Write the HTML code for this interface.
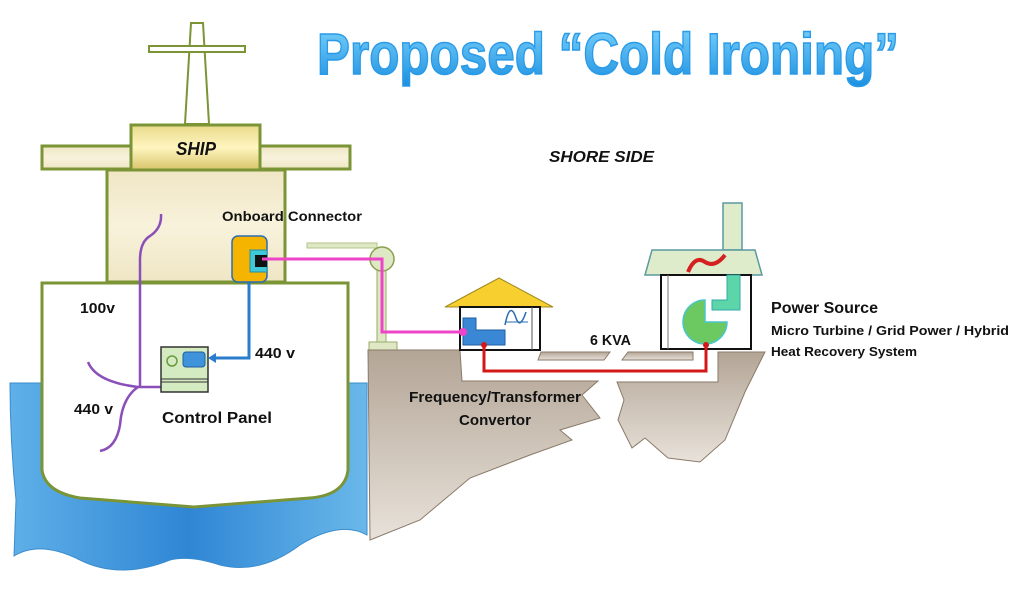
<!DOCTYPE html>
<html><head><meta charset="utf-8"><style>
html,body{margin:0;padding:0;background:#fff;}
svg{display:block;}
text{font-family:"Liberation Sans",sans-serif;font-weight:bold;fill:#111;}
</style></head><body>
<svg width="1024" height="593" viewBox="0 0 1024 593" xmlns="http://www.w3.org/2000/svg">
<defs>
<linearGradient id="gold" x1="0" y1="0" x2="0" y2="1"><stop offset="0" stop-color="#e8d98a"/><stop offset=".5" stop-color="#fff6c0"/><stop offset="1" stop-color="#d9c46a"/></linearGradient>
<linearGradient id="beige" x1="0" y1="0" x2="0" y2="1"><stop offset="0" stop-color="#efe6c4"/><stop offset=".5" stop-color="#f8f2dc"/><stop offset="1" stop-color="#efe6c4"/></linearGradient>
<linearGradient id="water" x1="0" y1="0" x2="1" y2="0"><stop offset="0" stop-color="#5fb0e8"/><stop offset=".5" stop-color="#2f86d4"/><stop offset="1" stop-color="#6ab8ea"/></linearGradient>
<linearGradient id="land" x1="0" y1="0" x2="0" y2="1"><stop offset="0" stop-color="#b3a596"/><stop offset="1" stop-color="#e8e2da"/></linearGradient>
<linearGradient id="title" x1="0" y1="0" x2="0" y2="1"><stop offset="0" stop-color="#7fd4fb"/><stop offset="1" stop-color="#1a8fe0"/></linearGradient>
</defs>

<text x="608" y="74" text-anchor="middle" font-size="58" textLength="582" lengthAdjust="spacingAndGlyphs" style="fill:url(#title);stroke:#2a9ae8;stroke-width:1.5">Proposed “Cold Ironing”</text>

<path d="M10,383 L42,383 L42,470 Q60,500 194,507 Q330,500 348,470 L348,383 L367,383 L367,535 Q340,520 300,545 Q260,575 220,565 Q190,555 170,560 Q120,580 80,560 Q40,540 14,556 L16,500 Q10,440 10,383Z" fill="url(#water)" stroke="#3a8ccc" stroke-width="1"/>

<polygon points="191,23 203,23 209,124 185,124" fill="#fff" stroke="#7a9436" stroke-width="2"/>
<rect x="149" y="46" width="96" height="6" fill="#fff" stroke="#7a9436" stroke-width="2"/>
<rect x="42" y="146" width="308" height="23" fill="url(#beige)" stroke="#7a9436" stroke-width="3"/>
<rect x="131" y="125" width="129" height="45" fill="url(#gold)" stroke="#7a9436" stroke-width="3"/>
<text x="176" y="155" font-size="18" font-style="italic" textLength="40" lengthAdjust="spacingAndGlyphs">SHIP</text>
<rect x="107" y="170" width="178" height="112" fill="url(#beige)" stroke="#7a9436" stroke-width="3"/>
<path d="M42,283 L348,283 L348,470 Q345,495 310,498 L194,507 L80,498 Q45,492 42,470Z" fill="#fff" stroke="#7a9436" stroke-width="3"/>

<path d="M161,214 Q162,228 150,236 Q140,242 140,260 L140,387" fill="none" stroke="#8a4fb8" stroke-width="2.5"/>
<path d="M161,387 L138,387 Q122,398 120,425 Q116,448 100,451" fill="none" stroke="#8a4fb8" stroke-width="2.5"/>
<path d="M88,362 Q96,382 138,387" fill="none" stroke="#8a4fb8" stroke-width="2.5"/>

<rect x="161" y="347" width="47" height="45" fill="#d4eac0" stroke="#333" stroke-width="1.5"/>
<line x1="161" y1="379" x2="208" y2="379" stroke="#333" stroke-width="1"/>
<line x1="161" y1="382" x2="208" y2="382" stroke="#333" stroke-width="1"/>
<circle cx="172" cy="361" r="5" fill="#d4eac0" stroke="#6a9a40" stroke-width="1.5"/>
<rect x="183" y="352" width="22" height="15" rx="3" fill="#3f93db" stroke="#1f5fa0"/>
<path d="M249,280 L249,358 L214,358" fill="none" stroke="#2a7ccc" stroke-width="3"/>
<polygon points="208,358 216,353 216,363" fill="#2a7ccc"/>
<circle cx="249" cy="281" r="3" fill="#2a7ccc"/>

<rect x="232" y="236" width="35" height="46" rx="6" fill="#f5b400" stroke="#2a6cb0" stroke-width="1.5"/>
<rect x="250" y="250" width="17" height="22" fill="#3fc8d8" stroke="#2a8c9c"/>
<rect x="255" y="255" width="12" height="12" fill="#111"/>

<rect x="307" y="243" width="70" height="5" fill="#dfe8c4" stroke="#b6c48a"/>
<rect x="377" y="258" width="9" height="87" fill="#dfe8c4" stroke="#9aab66"/>
<circle cx="382" cy="259" r="12" fill="#dfe8c4" stroke="#8aa050" stroke-width="1.5"/>
<rect x="369" y="342" width="28" height="8" fill="#dfe8c4" stroke="#9aab66"/>

<path d="M368,350 L460,350 L462,381 L598,381 L582,395 L600,418 L560,430 L572,440 L530,455 L470,478 L420,520 L370,540Z" fill="url(#land)" stroke="#8a7a68" stroke-width="1"/>
<path d="M617,382 L718,382 L718,352 L765,352 L745,392 L725,440 L700,462 L668,458 L645,438 L632,448 L618,420 L624,400Z" fill="url(#land)" stroke="#8a7a68" stroke-width="1"/>
<polygon points="541,352 610,352 604,360 538,360" fill="url(#land)" stroke="#8a7a68"/>
<polygon points="628,352 693,352 693,360 622,360" fill="url(#land)" stroke="#8a7a68"/>

<polygon points="499,278 553,307 445,307" fill="#f7cf2e" stroke="#a08a20"/>
<rect x="460" y="307" width="80" height="43" fill="#fff" stroke="#111" stroke-width="2"/>
<line x1="532" y1="307" x2="532" y2="350" stroke="#555"/>
<path d="M463,318 L476,318 L476,330 L505,330 L505,345 L463,345Z" fill="#3a87d6" stroke="#1f5fa0"/>
<path d="M505,325 Q510,300 516,318 Q520,330 526,312" fill="none" stroke="#2a6cb0" stroke-width="1.5"/>
<line x1="505" y1="322" x2="528" y2="322" stroke="#2a6cb0"/>

<rect x="723" y="203" width="19" height="47" fill="#dfeccc" stroke="#5a9aa0" stroke-width="1.5"/>
<polygon points="652,250 755,250 762,275 645,275" fill="#dfeccc" stroke="#5a9aa0" stroke-width="1.5"/>
<path d="M688,272 Q695,255 705,262 Q715,268 725,255" fill="none" stroke="#d42020" stroke-width="4"/>
<rect x="661" y="275" width="90" height="74" fill="#fff" stroke="#111" stroke-width="2"/>
<line x1="668" y1="275" x2="668" y2="349" stroke="#777"/>
<path d="M727,275 L740,275 L740,310 L712,310 L712,300 L727,300Z" fill="#5cd6a8" stroke="#3aa"/>
<path d="M705,300 A22,22 0 1,0 727,322 L705,322Z" fill="#6cc860" stroke="#4ac6c8" stroke-width="1.5"/>

<path d="M262,259 L382,259 L382,332 L463,332" fill="none" stroke="#ee44c8" stroke-width="3"/>
<circle cx="463" cy="332" r="4" fill="#ee44c8"/>
<path d="M484,345 L484,371 L706,371 L706,345" fill="none" stroke="#d41818" stroke-width="3"/>
<circle cx="484" cy="345" r="3" fill="#d41818"/><circle cx="706" cy="345" r="3" fill="#d41818"/>

<text x="549" y="162" font-size="16" font-style="italic" textLength="105" lengthAdjust="spacingAndGlyphs">SHORE SIDE</text>
<text x="222" y="221" font-size="14" textLength="140" lengthAdjust="spacingAndGlyphs">Onboard Connector</text>
<text x="80" y="313" font-size="15" textLength="35" lengthAdjust="spacingAndGlyphs">100v</text>
<text x="255" y="358" font-size="15" textLength="40" lengthAdjust="spacingAndGlyphs">440 v</text>
<text x="74" y="414" font-size="15" textLength="39" lengthAdjust="spacingAndGlyphs">440 v</text>
<text x="162" y="423" font-size="16" textLength="110" lengthAdjust="spacingAndGlyphs">Control Panel</text>
<text x="409" y="402" font-size="15" textLength="172" lengthAdjust="spacingAndGlyphs">Frequency/Transformer</text>
<text x="459" y="425" font-size="15" textLength="72" lengthAdjust="spacingAndGlyphs">Convertor</text>
<text x="590" y="345" font-size="15" textLength="41" lengthAdjust="spacingAndGlyphs">6 KVA</text>
<text x="771" y="313" font-size="16" textLength="107" lengthAdjust="spacingAndGlyphs">Power Source</text>
<text x="771" y="335" font-size="13" textLength="238" lengthAdjust="spacingAndGlyphs">Micro Turbine / Grid Power / Hybrid</text>
<text x="771" y="356" font-size="13" textLength="146" lengthAdjust="spacingAndGlyphs">Heat Recovery System</text>
</svg>
</body></html>
